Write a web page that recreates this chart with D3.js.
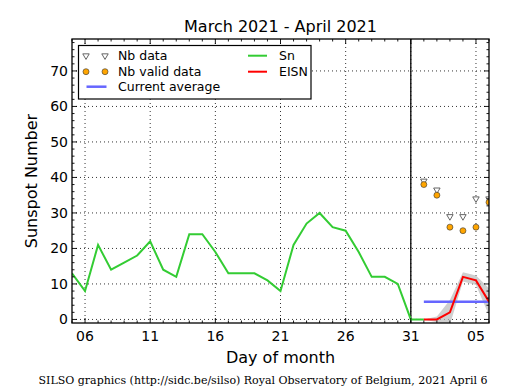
<!DOCTYPE html>
<html><head><meta charset="utf-8">
<script src="https://cdn.jsdelivr.net/npm/d3@7"></script>
<style>body{margin:0;background:#fff}</style>
</head><body>
<script>
// Day index: March d -> d, April d -> 31 + d
const snDays = [5,6,7,8,9,10,11,12,13,14,15,16,17,18,19,20,21,22,23,24,25,26,27,28,29,30,31,32];
const snValues = [13,8,21,14,16,18,22,14,12,24,24,19,13,13,13,11,8,21,27,30,26,25,19,12,12,10,0,0];
const eisnDays = [32,33,34,35,36,37];
const eisnValues = [0,0,2,12,11,5];
const eisnUpper = [0,0.8,5.5,13.3,12.4,8.8];
const eisnLower = [0,-0.8,-1.5,10.7,9.7,1.2];
const nbDays = [32,33,34,35,36,37];
const nbData = [39,36.5,29,29,34,34];
const nbValid = [38,35,26,25,26,33];
const avgDays = [32,37];
const avgValue = 5;
const xTickDays = [6,11,16,21,26,31,36];
const xTickLabels = ["06","11","16","21","26","31","05"];
const yTicks = [0,10,20,30,40,50,60,70];

const W = 515, H = 390;
const L = 72, R = 489, T = 39, B = 323;
const svg = d3.select("body").append("svg").attr("width", W).attr("height", H)
  .style("font-family", "DejaVu Sans");
const x = d3.scaleLinear().domain([5, 37]).range([L, R]);
const y = d3.scaleLinear().domain([-1, 79]).range([B, T]);

const clip = svg.append("clipPath").attr("id","c").append("rect")
  .attr("x", L).attr("y", T).attr("width", R-L).attr("height", B-T);

// grid
const grid = svg.append("g").attr("stroke","#000").attr("stroke-width",0.8).attr("stroke-dasharray","1,3");
xTickDays.forEach(d => grid.append("line").attr("x1",x(d)).attr("x2",x(d)).attr("y1",T).attr("y2",B));
yTicks.forEach(v => grid.append("line").attr("x1",L).attr("x2",R).attr("y1",y(v)).attr("y2",y(v)));

const plot = svg.append("g").attr("clip-path","url(#c)");
// band
plot.append("path").datum(eisnDays.map((d,i)=>[d,eisnLower[i],eisnUpper[i]]))
  .attr("d", d3.area().x(d=>x(d[0])).y0(d=>y(d[1])).y1(d=>y(d[2])))
  .attr("fill","#bbbbbb").attr("opacity",0.7);
// vertical line
plot.append("line").attr("x1",x(31)).attr("x2",x(31)).attr("y1",T).attr("y2",B)
  .attr("stroke","#000").attr("stroke-width",1.3);
// Sn
plot.append("path").datum(snDays.map((d,i)=>[d,snValues[i]]))
  .attr("d", d3.line().x(d=>x(d[0])).y(d=>y(d[1])))
  .attr("fill","none").attr("stroke","#33cc33").attr("stroke-width",2);
// avg
plot.append("line").attr("x1",x(avgDays[0])).attr("x2",x(avgDays[1])).attr("y1",y(avgValue)).attr("y2",y(avgValue))
  .attr("stroke","#6666ff").attr("stroke-width",2.5);
// EISN
plot.append("path").datum(eisnDays.map((d,i)=>[d,eisnValues[i]]))
  .attr("d", d3.line().x(d=>x(d[0])).y(d=>y(d[1])))
  .attr("fill","none").attr("stroke","#ff0000").attr("stroke-width",2);
// markers
const tri = d3.symbol().type(d3.symbolTriangle).size(18);
nbDays.forEach((d,i)=>{
  plot.append("path").attr("d",tri()).attr("transform",`translate(${x(d)},${y(nbData[i])}) rotate(180)`)
    .attr("fill","#fff").attr("stroke","#555").attr("stroke-width",0.9);
  plot.append("circle").attr("cx",x(d)).attr("cy",y(nbValid[i])).attr("r",3)
    .attr("fill","#ffa500").attr("stroke","#333").attr("stroke-width",0.6);
});

// frame
svg.append("rect").attr("x",L).attr("y",T).attr("width",R-L).attr("height",B-T)
  .attr("fill","none").attr("stroke","#000").attr("stroke-width",1.3);

// ticks
const tk = svg.append("g").attr("stroke","#000").attr("stroke-width",0.9);
for (let d=5; d<=37; d++){
  const major = xTickDays.includes(d);
  const len = major ? 5 : 2.5;
  tk.append("line").attr("x1",x(d)).attr("x2",x(d)).attr("y1",B).attr("y2",B-len);
  tk.append("line").attr("x1",x(d)).attr("x2",x(d)).attr("y1",T).attr("y2",T+len);
}
for (let v=0; v<=78; v+=2){
  const major = v%10===0;
  const len = major ? 5 : 2.5;
  tk.append("line").attr("x1",L).attr("x2",L+len).attr("y1",y(v)).attr("y2",y(v));
  tk.append("line").attr("x1",R).attr("x2",R-len).attr("y1",y(v)).attr("y2",y(v));
}
// tick labels
xTickDays.forEach((d,i)=> svg.append("text").attr("x",x(d)).attr("y",B+18).attr("text-anchor","middle")
  .attr("font-size",14).text(xTickLabels[i]));
yTicks.forEach(v=> svg.append("text").attr("x",L-4).attr("y",y(v)+5).attr("text-anchor","end")
  .attr("font-size",14).text(v));

// titles
svg.append("text").attr("x",(L+R)/2).attr("y",32).attr("text-anchor","middle").attr("font-size",16)
  .text("March 2021 - April 2021");
svg.append("text").attr("x",(L+R)/2).attr("y",363).attr("text-anchor","middle").attr("font-size",16)
  .text("Day of month");
svg.append("text").attr("transform",`translate(37,${(T+B)/2}) rotate(-90)`).attr("text-anchor","middle")
  .attr("font-size",16).text("Sunspot Number");
svg.append("text").attr("x",263).attr("y",384).attr("text-anchor","middle").attr("font-size",11)
  .style("font-family","DejaVu Serif")
  .text("SILSO graphics (http://sidc.be/silso) Royal Observatory of Belgium, 2021 April 6");

// legend
const lg = svg.append("g");
lg.append("rect").attr("x",78.5).attr("y",45.5).attr("width",232.5).attr("height",53.5)
  .attr("fill","#fff").attr("stroke","#000").attr("stroke-width",1.2);
const rows = [55.7, 71.7, 86.7];
[86,105].forEach(px=>{
  lg.append("path").attr("d",tri()).attr("transform",`translate(${px},${rows[0]}) rotate(180)`)
    .attr("fill","#fff").attr("stroke","#555").attr("stroke-width",0.9);
  lg.append("circle").attr("cx",px).attr("cy",rows[1]).attr("r",3)
    .attr("fill","#ffa500").attr("stroke","#333").attr("stroke-width",0.6);
});
lg.append("line").attr("x1",86.5).attr("x2",106.5).attr("y1",rows[2]).attr("y2",rows[2])
  .attr("stroke","#6666ff").attr("stroke-width",2.5);
lg.append("line").attr("x1",248).attr("x2",267).attr("y1",rows[0]).attr("y2",rows[0])
  .attr("stroke","#33cc33").attr("stroke-width",2);
lg.append("line").attr("x1",248).attr("x2",267).attr("y1",rows[1]).attr("y2",rows[1])
  .attr("stroke","#ff0000").attr("stroke-width",2);
const lt = [["Nb data",118,rows[0]],["Nb valid data",118,rows[1]],["Current average",118,rows[2]],["Sn",279,rows[0]],["EISN",279,rows[1]]];
lt.forEach(t=> lg.append("text").attr("x",t[1]).attr("y",t[2]+4.5).attr("font-size",12.5).text(t[0]));
</script>
</body></html>
